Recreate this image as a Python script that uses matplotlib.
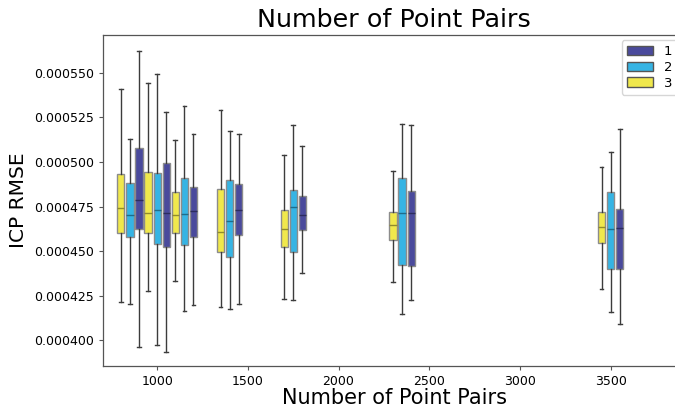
import numpy as np
import matplotlib.pyplot as plt
import matplotlib.colors as mcolors
from matplotlib.patches import Patch
from matplotlib.ticker import FormatStrFormatter

pairs = [850, 1000, 1150, 1400, 1750, 2350, 3500]
series = ['1', '2', '3']
colors = {'1': '#4a4a9c', '2': '#36b4e4', '3': '#f0e84c'}
offsets = {'1': 50, '2': 0, '3': -50}

# five number summaries per group: whisker low, Q1, median, Q3, whisker high (units 1e-6)
set_1 = [(396.6, 462.3, 478.9, 507.8, 562.2),
         (393.6, 452.5, 471.3, 499.3, 528.1),
         (419.8, 457.8, 472.7, 485.9, 515.6),
         (420.4, 459.3, 473.0, 487.7, 515.4),
         (437.5, 461.7, 470.3, 480.6, 508.6),
         (422.4, 441.9, 471.4, 483.8, 520.7),
         (409.0, 439.8, 463.0, 473.5, 518.6)]
set_2 = [(420.5, 457.8, 470.3, 488.4, 512.8),
         (397.2, 453.9, 473.0, 493.7, 549.1),
         (416.4, 453.3, 470.7, 491.1, 531.1),
         (417.6, 446.7, 467.0, 489.8, 517.5),
         (422.8, 449.4, 475.0, 484.2, 520.5),
         (414.6, 442.3, 471.4, 491.1, 521.4),
         (416.1, 439.8, 462.5, 483.1, 505.3)]
set_3 = [(421.7, 460.0, 474.1, 493.2, 540.9),
         (427.5, 460.4, 471.3, 494.3, 544.2),
         (433.4, 460.4, 470.3, 483.1, 512.4),
         (418.7, 449.6, 460.8, 484.7, 528.9),
         (423.2, 452.2, 462.6, 473.0, 503.6),
         (432.7, 456.3, 464.5, 471.8, 494.6),
         (428.6, 454.6, 463.6, 472.2, 497.1)]
all_sets = {'1': set_1, '2': set_2, '3': set_3}

fig = plt.figure(figsize=(6.75, 4.09), dpi=100)
ax = fig.add_axes([102.7 / 675, 43.5 / 409, (686 - 102.7) / 675, 330.5 / 409])

for s in ['3', '2', '1']:
    stats = []
    for lo, q1, med, q3, hi in all_sets[s]:
        stats.append({'whislo': lo * 1e-6, 'q1': q1 * 1e-6, 'med': med * 1e-6,
                      'q3': q3 * 1e-6, 'whishi': hi * 1e-6, 'fliers': []})
    pos = [p + offsets[s] for p in pairs]
    dark = np.array(mcolors.to_rgb(colors[s])) * 0.6
    ax.bxp(stats, positions=pos, widths=40, patch_artist=True, showfliers=False,
           manage_ticks=False,
           boxprops=dict(facecolor=colors[s], edgecolor='#8c8c8c', linewidth=1),
           medianprops=dict(color=dark, linewidth=1),
           whiskerprops=dict(color='#3c3c3c', linewidth=1),
           capprops=dict(color='#3c3c3c', linewidth=1))

ax.set_xlim(700, 3915)
ax.set_ylim(0.000386, 0.000571)
ax.set_xticks([1000, 1500, 2000, 2500, 3000, 3500])
ax.set_yticks(np.arange(0.0004, 0.00056, 0.000025))
ax.yaxis.set_major_formatter(FormatStrFormatter('%.6f'))
ax.tick_params(labelsize=9, color='#555555', length=3)
for sp in ax.spines.values():
    sp.set_color('#555555')
    sp.set_linewidth(0.9)

ax.set_title('Number of Point Pairs', fontsize=18.3)
ax.set_xlabel('Number of Point Pairs', fontsize=15, labelpad=0.5)
ax.set_ylabel('ICP RMSE', fontsize=14.5)

handles = [Patch(facecolor=colors[s], edgecolor='#555555', linewidth=1) for s in series]
ax.legend(handles, series, loc='upper left', bbox_to_anchor=(621.7 / 675, 1 - 40 / 409),
          bbox_transform=fig.transFigure, fontsize=9.5, handlelength=2.0,
          labelspacing=0.2, borderaxespad=0)

fig.savefig('out.png')
